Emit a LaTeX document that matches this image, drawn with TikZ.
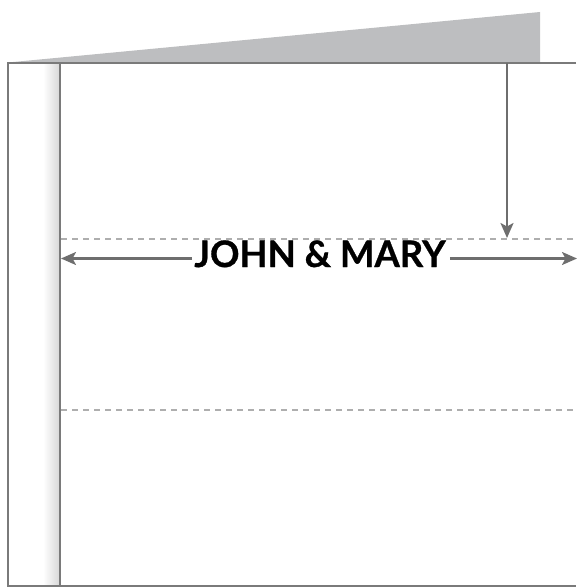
\documentclass[tikz,border=0pt]{standalone}
\usepackage{fontspec}
\newfontfamily\titlefont[BoldFeatures={FakeBold=0.8}]{Lato}
\usetikzlibrary{arrows.meta}
\definecolor{flap}{HTML}{BDBEC0}
\definecolor{edge}{HTML}{7A7A7A}
\definecolor{arrowgray}{HTML}{6E6E6E}
\definecolor{dashgray}{HTML}{AEAEAE}
\definecolor{spine}{HTML}{D6D6D6}
\tikzset{
  pageedge/.style={draw=edge, line width=1.6pt},
  foldline/.style={draw=dashgray, line width=1.3pt, dash pattern=on 6pt off 5pt},
  dimarrow/.style={draw=arrowgray, line width=2.4pt, -{Stealth[length=15pt,width=13pt,inset=3.5pt]}},
  title/.style={font=\titlefont\bfseries\fontsize{36.5}{40}\selectfont, inner sep=0pt, text=black}
}
\begin{document}
\begin{tikzpicture}[x=1pt,y=-1pt]
\useasboundingbox (0,0) rectangle (576,588);
% flap
\fill[flap] (8,62.5) -- (540,12) -- (540,63) -- cycle;
% spine gradient
\shade[left color=white, right color=spine] (43,63) rectangle (60,586);
% page
\draw[pageedge] (576,63) -- (8,63) -- (8,586) -- (576,586);
\draw[draw=edge, line width=2.2pt] (60,63) -- (60,586);
% fold lines
\draw[foldline] (61,239) -- (576,239);
\draw[foldline] (61,410) -- (576,410);
% title
\node[title, anchor=base] (t) at (320,267) {JOHN \& MARY};
\coordinate (lend) at (61,258.5);
\coordinate (rend) at (577,258.5);
\coordinate (vtop) at (507,63);
\coordinate (vend) at (507,238);
\draw[dimarrow] (t.west |- lend) ++(-2,0) -- (lend);
\draw[dimarrow] (t.east |- rend) ++(4,0) -- (rend);
\draw[dimarrow] (vtop) -- (vend);
\end{tikzpicture}
\end{document}
